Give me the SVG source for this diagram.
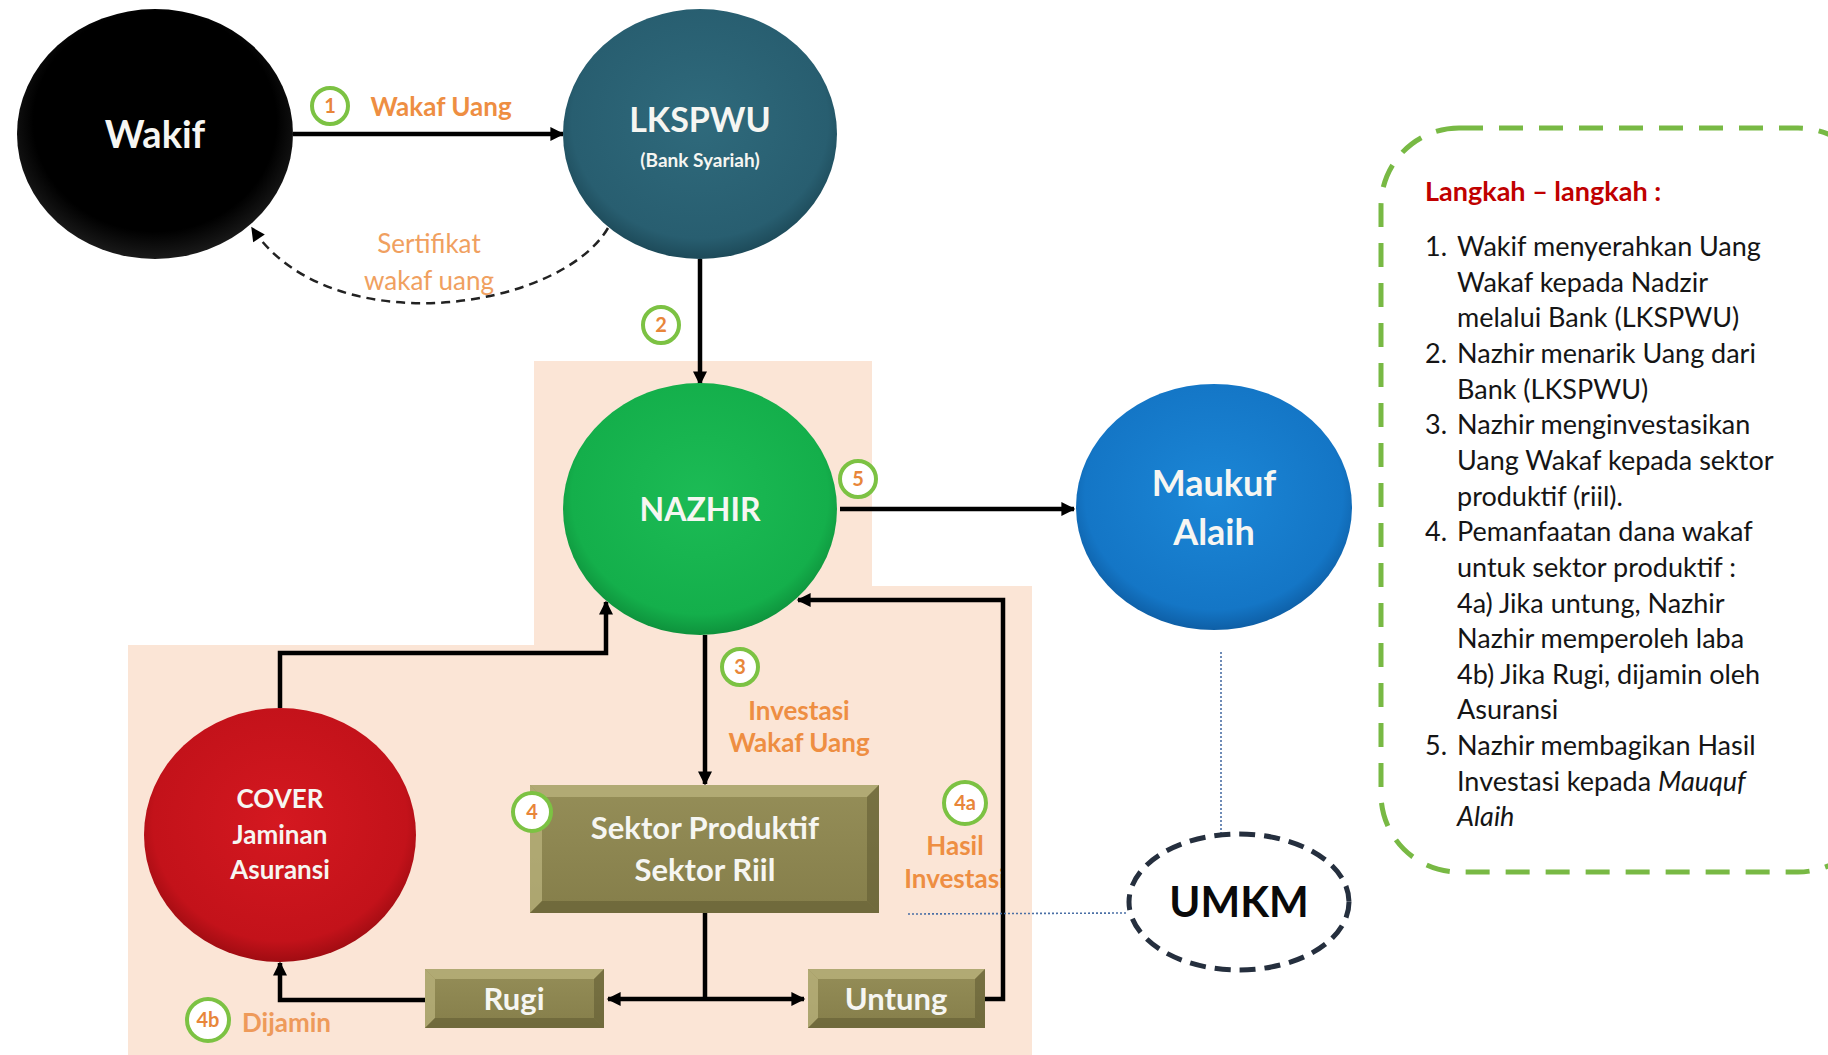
<svg xmlns="http://www.w3.org/2000/svg" width="1828" height="1055" viewBox="0 0 1828 1055">
<style>
  .nt{font-family:Lato,"Open Sans","Liberation Sans",sans-serif;font-weight:bold;fill:#F6F6F2;text-anchor:middle}
  .lbl{font-family:Lato,"Open Sans","Liberation Sans",sans-serif;font-weight:bold;fill:#EE8E42;text-anchor:middle;font-size:26px}
  .lbl-l{font-family:Lato,"Open Sans","Liberation Sans",sans-serif;font-weight:normal;fill:#F0A060;text-anchor:middle;font-size:26px}
  .lbl-s{font-family:Lato,"Open Sans","Liberation Sans",sans-serif;font-weight:bold;fill:#EE9A5A;text-anchor:start;font-size:26px}
  .bc{fill:#FFFFFF;stroke:#7CC243;stroke-width:4}
  .bt{font-family:Lato,"Open Sans","Liberation Sans",sans-serif;font-weight:bold;fill:#E8863A;text-anchor:middle;font-size:20px}
  .conn{fill:none;stroke:#000;stroke-width:4.5}
  .dot{fill:none;stroke:#4A6FA5;stroke-width:1.6;stroke-dasharray:2 2}
  .step{font-family:Lato,"Open Sans","Liberation Sans",sans-serif;font-size:27px;fill:#151515}
  .bvl{fill:#BDB680;opacity:0.7}
  .bvd{fill:#5E5A32;opacity:0.55}
</style>
<defs>
  <radialGradient id="gBlack" cx="0.5" cy="0.45" r="0.55">
    <stop offset="0.8" stop-color="#000"/><stop offset="1" stop-color="#1a1a1a"/>
  </radialGradient>
  <radialGradient id="gTeal" cx="0.5" cy="0.45" r="0.55">
    <stop offset="0" stop-color="#2F6A7C"/><stop offset="0.85" stop-color="#285E70"/><stop offset="1" stop-color="#1D4A59"/>
  </radialGradient>
  <radialGradient id="gGreen" cx="0.5" cy="0.45" r="0.55">
    <stop offset="0" stop-color="#1CBB55"/><stop offset="0.85" stop-color="#14AF4B"/><stop offset="1" stop-color="#0E923C"/>
  </radialGradient>
  <radialGradient id="gBlue" cx="0.5" cy="0.45" r="0.55">
    <stop offset="0" stop-color="#1B86D6"/><stop offset="0.85" stop-color="#1476C6"/><stop offset="1" stop-color="#0E5FA6"/>
  </radialGradient>
  <radialGradient id="gRed" cx="0.5" cy="0.45" r="0.55">
    <stop offset="0" stop-color="#D41820"/><stop offset="0.85" stop-color="#C3121A"/><stop offset="1" stop-color="#A00C12"/>
  </radialGradient>
  <linearGradient id="gOlive" x1="0" y1="0" x2="0" y2="1">
    <stop offset="0" stop-color="#958E58"/><stop offset="1" stop-color="#857E4A"/>
  </linearGradient>
  <marker id="ah" viewBox="0 0 10 10" refX="9" refY="5" markerWidth="16" markerHeight="14" markerUnits="userSpaceOnUse" orient="auto-start-reverse">
    <path d="M0,0 L10,5 L0,10 z" fill="#000"/>
  </marker>
</defs>

<!-- background panel -->
<path id="panel" d="M534,361 H872 V586 H1032 V1055 H128 V645 H534 Z" fill="#FBE5D6"/>

<!-- steps box -->
<g id="steps">
  <rect x="1381" y="128" width="495" height="744" rx="78" ry="78" fill="none" stroke="#78B944" stroke-width="5" stroke-dasharray="24 16"/>
  <text x="1425" y="201" font-family="Lato,'Open Sans','Liberation Sans',sans-serif" font-weight="bold" font-size="27" fill="#C00000">Langkah – langkah :</text>
  <g class="step">
    <text x="1425" y="256">1.</text><text x="1457" y="256">Wakif menyerahkan Uang</text>
    <text x="1457" y="292">Wakaf kepada Nadzir</text>
    <text x="1457" y="327">melalui Bank (LKSPWU)</text>
    <text x="1425" y="363">2.</text><text x="1457" y="363">Nazhir menarik Uang dari</text>
    <text x="1457" y="399">Bank (LKSPWU)</text>
    <text x="1425" y="434">3.</text><text x="1457" y="434">Nazhir menginvestasikan</text>
    <text x="1457" y="470">Uang Wakaf kepada sektor</text>
    <text x="1457" y="506">produktif (riil).</text>
    <text x="1425" y="541">4.</text><text x="1457" y="541">Pemanfaatan dana wakaf</text>
    <text x="1457" y="577">untuk sektor produktif :</text>
    <text x="1457" y="613">4a) Jika untung, Nazhir</text>
    <text x="1457" y="648">Nazhir memperoleh laba</text>
    <text x="1457" y="684">4b) Jika Rugi, dijamin oleh</text>
    <text x="1457" y="719">Asuransi</text>
    <text x="1425" y="755">5.</text><text x="1457" y="755">Nazhir membagikan Hasil</text>
    <text x="1457" y="791">Investasi kepada <tspan font-style="italic">Mauquf</tspan></text>
    <text x="1457" y="826" font-style="italic">Alaih</text>
  </g>
</g>

<!-- edge labels -->
<g id="labels">
  <text class="lbl" x="441" y="116">Wakaf Uang</text>
  <text class="lbl-l" x="429" y="253">Sertifikat</text>
  <text class="lbl-l" x="429" y="290">wakaf uang</text>
  <text class="lbl" x="799" y="720">Investasi</text>
  <text class="lbl" x="799" y="752">Wakaf Uang</text>
  <text class="lbl" x="955" y="855">Hasil</text>
  <text class="lbl" x="955" y="888">Investasi</text>
  <text class="lbl-s" x="242" y="1032">Dijamin</text>
</g>

<!-- connectors -->
<g id="connectors">
  <line class="conn" x1="293" y1="134" x2="563" y2="134" marker-end="url(#ah)"/>
  <path d="M608,228 C560,310 330,345 252,228" fill="none" stroke="#222" stroke-width="2.5" stroke-dasharray="9 6" marker-end="url(#ah)"/>
  <line class="conn" x1="700" y1="259" x2="700" y2="384" marker-end="url(#ah)"/>
  <line class="conn" x1="840" y1="509" x2="1074" y2="509" marker-end="url(#ah)"/>
  <line class="conn" x1="705" y1="635" x2="705" y2="784" marker-end="url(#ah)"/>
  <line class="conn" x1="705" y1="913" x2="705" y2="999"/>
  <line class="conn" x1="608" y1="999" x2="804" y2="999" marker-start="url(#ah)" marker-end="url(#ah)"/>
  <path class="conn" d="M985,999 H1003 V600 H798" marker-end="url(#ah)"/>
  <path class="conn" d="M425,1000 H280 V963" marker-end="url(#ah)"/>
  <path class="conn" d="M280,708 V653 H606 V602" marker-end="url(#ah)"/>
  <line class="dot" x1="1221" y1="652" x2="1221" y2="834"/>
  <line class="dot" x1="908" y1="914" x2="1128" y2="913"/>
</g>

<!-- nodes -->
<g id="wakif">
  <ellipse cx="155" cy="134" rx="138" ry="125" fill="url(#gBlack)"/>
  <text class="nt" x="155" y="148" font-size="38">Wakif</text>
</g>
<g id="lkspwu">
  <ellipse cx="700" cy="134" rx="137" ry="125" fill="url(#gTeal)"/>
  <text class="nt" x="700" y="132" font-size="34">LKSPWU</text>
  <text class="nt" x="700" y="167" font-size="19">(Bank Syariah)</text>
</g>
<g id="nazhir">
  <ellipse cx="700" cy="509" rx="137" ry="126" fill="url(#gGreen)"/>
  <text class="nt" x="700" y="521" font-size="32">NAZHIR</text>
</g>
<g id="maukuf">
  <ellipse cx="1214" cy="507" rx="138" ry="123" fill="url(#gBlue)"/>
  <text class="nt" x="1214" y="496" font-size="36">Maukuf</text>
  <text class="nt" x="1214" y="545" font-size="36">Alaih</text>
</g>
<g id="cover">
  <ellipse cx="280" cy="835" rx="136" ry="127" fill="url(#gRed)"/>
  <text class="nt" x="280" y="808" font-size="26">COVER</text>
  <text class="nt" x="280" y="844" font-size="26">Jaminan</text>
  <text class="nt" x="280" y="879" font-size="26">Asuransi</text>
</g>
<g id="sektor">
  <rect x="530" y="785" width="349" height="128" fill="url(#gOlive)"/>
  <polygon class="bvl" points="530,785 879,785 867,797 542,797"/>
  <polygon class="bvl" points="530,785 542,797 542,901 530,913"/>
  <polygon class="bvd" points="879,785 879,913 867,901 867,797"/>
  <polygon class="bvd" points="530,913 879,913 867,901 542,901"/>
  <text class="nt" x="705" y="839" font-size="31">Sektor Produktif</text>
  <text class="nt" x="705" y="881" font-size="31">Sektor Riil</text>
</g>
<g id="rugi">
  <rect x="425" y="969" width="179" height="59" fill="url(#gOlive)"/>
  <polygon class="bvl" points="425,969 604,969 594,979 435,979"/>
  <polygon class="bvl" points="425,969 435,979 435,1018 425,1028"/>
  <polygon class="bvd" points="604,969 604,1028 594,1018 594,979"/>
  <polygon class="bvd" points="425,1028 604,1028 594,1018 435,1018"/>
  <text class="nt" x="514" y="1010" font-size="31">Rugi</text>
</g>
<g id="untung">
  <rect x="808" y="969" width="177" height="59" fill="url(#gOlive)"/>
  <polygon class="bvl" points="808,969 985,969 975,979 818,979"/>
  <polygon class="bvl" points="808,969 818,979 818,1018 808,1028"/>
  <polygon class="bvd" points="985,969 985,1028 975,1018 975,979"/>
  <polygon class="bvd" points="808,1028 985,1028 975,1018 818,1018"/>
  <text class="nt" x="896" y="1010" font-size="31">Untung</text>
</g>
<g id="umkm">
  <ellipse cx="1239" cy="902" rx="110" ry="68" fill="#FFFFFF" stroke="#252F3E" stroke-width="5" stroke-dasharray="16 9"/>
  <text x="1239" y="917" text-anchor="middle" font-family="Lato,'Open Sans','Liberation Sans',sans-serif" font-weight="bold" font-size="42" fill="#0A0A0A">UMKM</text>
</g>

<!-- step badges -->
<g id="badges">
  <g><circle class="bc" cx="330" cy="106" r="18"/><text class="bt" x="330" y="113">1</text></g>
  <g><circle class="bc" cx="661" cy="325" r="18"/><text class="bt" x="661" y="332">2</text></g>
  <g><circle class="bc" cx="740" cy="667" r="18"/><text class="bt" x="740" y="674">3</text></g>
  <g><circle class="bc" cx="532" cy="812" r="19"/><text class="bt" x="532" y="819">4</text></g>
  <g><circle class="bc" cx="858" cy="479" r="18"/><text class="bt" x="858" y="486">5</text></g>
  <g><circle class="bc" cx="965" cy="803" r="21"/><text class="bt" x="965" y="810">4a</text></g>
  <g><circle class="bc" cx="208" cy="1020" r="21"/><text class="bt" x="208" y="1027">4b</text></g>
</g>
</svg>
